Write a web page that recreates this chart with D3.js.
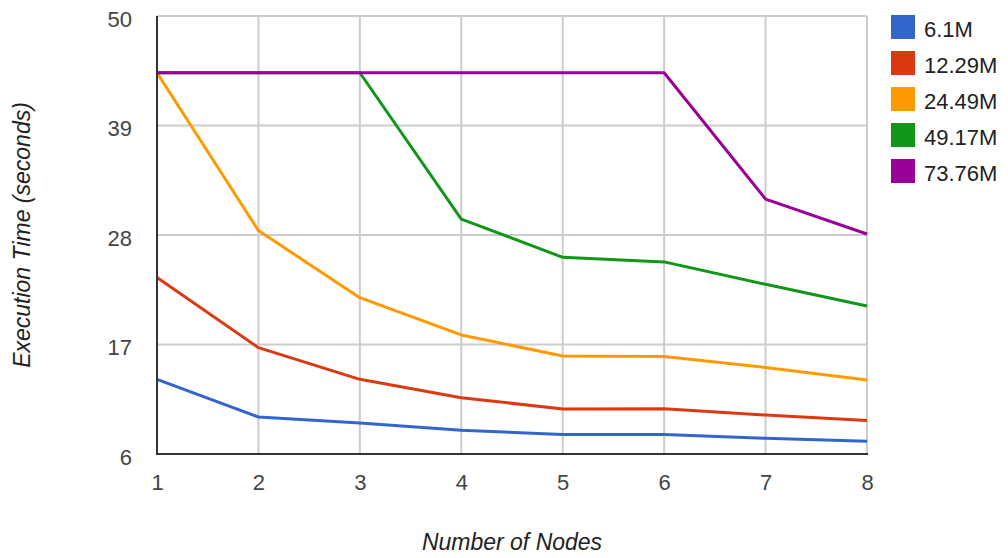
<!DOCTYPE html>
<html>
<head>
<meta charset="utf-8">
<script src="https://cdn.jsdelivr.net/npm/d3@7"></script>
<style>
  html, body { margin: 0; padding: 0; background: #fff; }
  svg { display: block; font-family: "Liberation Sans", Arial, sans-serif; }
</style>
</head>
<body>
<svg id="chart" width="1008" height="558"></svg>
<script>
// Node counts on the x axis
const nodes = [1, 2, 3, 4, 5, 6, 7, 8];

// Dataset sizes (one line each)
const seriesNames = ["6.1M", "12.29M", "24.49M", "49.17M", "73.76M"];

// Execution time in seconds, per dataset, for 1..8 nodes
const time61M   = [13.5, 9.72, 9.12, 8.38, 7.95, 7.95, 7.58, 7.28];
const time1229M = [23.72, 16.68, 13.5, 11.66, 10.52, 10.55, 9.92, 9.36];
const time2449M = [44.3, 28.44, 21.7, 17.96, 15.85, 15.8, 14.7, 13.44];
const time4917M = [44.3, 44.3, 44.3, 29.6, 25.76, 25.3, 23.05, 20.87];
const time7376M = [44.3, 44.3, 44.3, 44.3, 44.3, 44.3, 31.6, 28.1];

const yTicks = [6, 17, 28, 39, 50];
const colors = ["#3366cc", "#dc3912", "#ff9900", "#109618", "#990099"];

const allSeries = [time61M, time1229M, time2449M, time4917M, time7376M];

const svg = d3.select("#chart");
const plotLeft = 157, plotRight = 867, plotTop = 16, plotBottom = 454;

const x = d3.scaleLinear().domain([1, 8]).range([plotLeft, plotRight]);
const y = d3.scaleLinear().domain([6, 50]).range([plotBottom, plotTop]);

// Grid
const grid = svg.append("g");
grid.selectAll("line.v").data(nodes).enter().append("line")
  .attr("x1", d => x(d)).attr("x2", d => x(d))
  .attr("y1", plotTop).attr("y2", plotBottom)
  .attr("stroke", "#cccccc").attr("stroke-width", 2);
grid.selectAll("line.h").data(yTicks).enter().append("line")
  .attr("x1", plotLeft).attr("x2", plotRight)
  .attr("y1", d => y(d)).attr("y2", d => y(d))
  .attr("stroke", "#cccccc").attr("stroke-width", 2);

// Axes
const xAxis = svg.append("g").attr("transform", `translate(0,${plotBottom})`)
  .call(d3.axisBottom(x).tickValues(nodes).tickSize(0).tickFormat(d3.format("d")));
const yAxis = svg.append("g").attr("transform", `translate(${plotLeft},0)`)
  .call(d3.axisLeft(y).tickValues(yTicks).tickSize(0).tickPadding(25));
[xAxis, yAxis].forEach(a => {
  a.select(".domain").remove();
  a.selectAll("text").attr("fill", "#444").style("font-size", "22px")
    .style("font-family", "'Liberation Sans', Arial, sans-serif");
});
xAxis.selectAll("text").attr("y", 36).attr("dy", 0);
yAxis.selectAll("text").attr("y", 10).attr("dy", 0);

// Series lines
const line = d3.line().x((d, i) => x(nodes[i])).y(d => y(d));
svg.append("g").selectAll("path").data(allSeries).enter().append("path")
  .attr("d", line)
  .attr("fill", "none")
  .attr("stroke", (d, i) => colors[i])
  .attr("stroke-width", 3)
  .attr("stroke-linejoin", "round");

// Baseline and left axis line
svg.append("line").attr("x1", plotLeft).attr("x2", plotRight + 1)
  .attr("y1", plotBottom).attr("y2", plotBottom)
  .attr("stroke", "#333").attr("stroke-width", 2);
svg.append("line").attr("x1", plotLeft).attr("x2", plotLeft)
  .attr("y1", plotTop).attr("y2", plotBottom + 1)
  .attr("stroke", "#333").attr("stroke-width", 2);

// Axis titles
svg.append("text").attr("x", 512).attr("y", 550)
  .attr("text-anchor", "middle").attr("fill", "#222")
  .style("font-size", "23px").style("font-style", "italic")
  .text("Number of Nodes");
svg.append("text")
  .attr("transform", "translate(30,235) rotate(-90)")
  .attr("text-anchor", "middle").attr("fill", "#222")
  .style("font-size", "23px").style("font-style", "italic")
  .text("Execution Time (seconds)");

// Legend
const legend = svg.append("g").attr("transform", "translate(891,15)");
const items = legend.selectAll("g").data(seriesNames).enter().append("g")
  .attr("transform", (d, i) => `translate(0,${i * 36})`);
items.append("rect").attr("width", 24).attr("height", 24)
  .attr("fill", (d, i) => colors[i]);
items.append("text").attr("x", 33).attr("y", 22)
  .attr("fill", "#222").style("font-size", "22px")
  .text(d => d);
</script>
</body>
</html>
